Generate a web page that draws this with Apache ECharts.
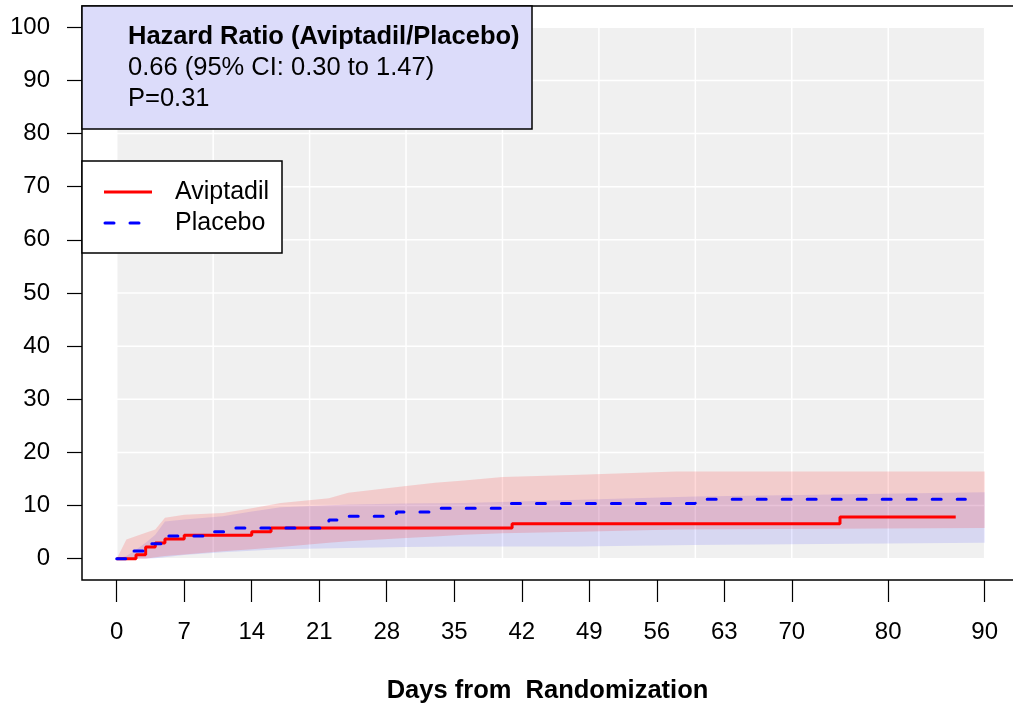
<!DOCTYPE html>
<html><head><meta charset="utf-8">
<script src="https://cdn.jsdelivr.net/npm/echarts@6/dist/echarts.min.js"></script>
<style>html,body{margin:0;padding:0;background:#fff}#c{width:1013px;height:704px}</style>
</head><body><div id="c"></div>
<script>
// ---- data ----
const xTickValues = [0, 7, 14, 21, 28, 35, 42, 49, 56, 63, 70, 80, 90];
const yTickValues = [0, 10, 20, 30, 40, 50, 60, 70, 80, 90, 100];
const xGridValues = [0, 10, 20, 30, 40, 50, 60, 70, 80, 90];
const yGridValues = [0, 10, 20, 30, 40, 50, 60, 70, 80, 90, 100];
const seriesNames = ['Aviptadil', 'Placebo'];
// cumulative incidence (%) step functions
const aviptadilDays = [0, 2, 3, 4, 5, 7, 14, 16, 41, 75, 87];
const aviptadilValues = [0, 0.75, 2.2, 2.95, 3.7, 4.4, 5.1, 5.8, 6.6, 7.85, 7.85];
const placeboDays = [0, 1, 3, 5, 10, 12, 22, 24, 29, 33, 40, 60, 88];
const placeboValues = [0, 1.45, 2.8, 4.3, 5.1, 5.8, 7.3, 8.0, 8.8, 9.5, 10.4, 11.2, 11.2];
// confidence bands
const pinkBandDays = [0, 1, 3, 4, 5, 7, 11, 14, 17, 22, 24, 30, 33, 36, 40, 48, 58, 90];
const pinkBandUpper = [0, 3.6, 4.9, 5.5, 7.7, 8.3, 8.6, 9.5, 10.5, 11.4, 12.4, 13.7, 14.3, 14.7, 15.4, 15.8, 16.4, 16.4];
const pinkBandLower = [0, 0, 0, 0.3, 0.5, 0.8, 1.4, 1.8, 2.2, 3.0, 3.3, 3.9, 4.2, 4.5, 4.8, 5.1, 5.5, 5.8];
const lavenderBandDays = [0, 1, 2, 3, 4, 5, 7, 11, 14, 17, 24, 30, 36, 48, 60, 90];
const lavenderBandUpper = [0, 0.5, 1.7, 3.0, 4.5, 7.0, 7.4, 8.0, 8.9, 9.7, 10.2, 10.4, 10.5, 11.1, 11.7, 12.5];
const lavenderBandLower = [0, 0, 0, 0, 0.1, 0.3, 0.7, 1.2, 1.5, 1.8, 2.0, 2.2, 2.3, 2.3, 2.6, 3.0];
const hrTitle = 'Hazard Ratio (Aviptadil/Placebo)';
const hrLines = ['0.66 (95% CI: 0.30 to 1.47)', 'P=0.31'];
const xTitle = 'Days from  Randomization';

const FONT = '"Liberation Sans", Arial, Helvetica, sans-serif';

function bandSeries(name, days, lower, upper, color, z) {
  return {
    type: 'custom', name: name, silent: true, z: z, clip: true,
    data: days.map((d, i) => [d, lower[i], upper[i]]),
    encode: { x: 0, y: [1, 2] },
    renderItem: function (params, api) {
      if (params.dataIndex !== 0) return null;
      const pts = [];
      for (let i = 0; i < days.length; i++) pts.push(api.coord([days[i], upper[i]]));
      for (let i = days.length - 1; i >= 0; i--) pts.push(api.coord([days[i], lower[i]]));
      return { type: 'polygon', shape: { points: pts }, style: { fill: color } };
    }
  };
}

const panelSeries = {
  type: 'custom', name: 'panel', silent: true, z: 1, clip: true,
  data: [[xGridValues[0], yGridValues[0]]],
  renderItem: function (params, api) {
    const x0 = xGridValues[0], x1 = xGridValues[xGridValues.length - 1];
    const y0 = yGridValues[0], y1 = yGridValues[yGridValues.length - 1];
    const tl = api.coord([x0, y1]), br = api.coord([x1, y0]);
    const children = [{ type: 'rect', shape: { x: tl[0], y: tl[1], width: br[0] - tl[0], height: br[1] - tl[1] }, style: { fill: '#F0F0F0' } }];
    xGridValues.forEach(v => {
      const a = api.coord([v, y0]), b = api.coord([v, y1]);
      children.push({ type: 'line', shape: { x1: a[0], y1: a[1], x2: b[0], y2: b[1] }, style: { stroke: '#FFFFFF', lineWidth: 1.5 } });
    });
    yGridValues.forEach(v => {
      const a = api.coord([x0, v]), b = api.coord([x1, v]);
      children.push({ type: 'line', shape: { x1: a[0], y1: a[1], x2: b[0], y2: b[1] }, style: { stroke: '#FFFFFF', lineWidth: 1.5 } });
    });
    return { type: 'group', children: children };
  }
};

const chart = echarts.init(document.getElementById('c'), null, { renderer: 'canvas' });
chart.setOption({
  animation: false,
  backgroundColor: '#ffffff',
  textStyle: { fontFamily: FONT },
  grid: { left: 82, right: 0, top: 6, bottom: 124, show: false, containLabel: false, outerBoundsMode: 'none' },
  xAxis: {
    type: 'value', min: -3.6, max: 92.94,
    axisLine: { show: false, onZero: false },
    axisTick: { show: true, customValues: xTickValues, length: 22, lineStyle: { color: '#000', width: 1.2 } },
    axisLabel: { show: true, customValues: xTickValues, margin: 40, fontSize: 24, color: '#000', fontFamily: FONT },
    splitLine: { show: false },
    name: xTitle, nameLocation: 'middle', nameGap: 98,
    nameTextStyle: { fontSize: 25.5, fontWeight: 'bold', color: '#000', fontFamily: FONT }
  },
  yAxis: {
    type: 'value', min: -4, max: 104,
    axisLine: { show: false, onZero: false },
    axisTick: { show: true, customValues: yTickValues, length: 15, lineStyle: { color: '#000', width: 1.2 } },
    axisLabel: { customValues: yTickValues, margin: 32, fontSize: 24, color: '#000', fontFamily: FONT },
    splitLine: { show: false }
  },
  series: [
    panelSeries,
    bandSeries('Placebo CI', lavenderBandDays, lavenderBandLower, lavenderBandUpper, 'rgba(0,0,255,0.10)', 2),
    bandSeries('Aviptadil CI', pinkBandDays, pinkBandLower, pinkBandUpper, 'rgba(255,0,0,0.15)', 3),
    { type: 'line', name: seriesNames[0], step: 'end', symbol: 'none', z: 5,
      data: aviptadilDays.map((d, i) => [d, aviptadilValues[i]]),
      lineStyle: { color: '#FF0000', width: 3 } },
    { type: 'line', name: seriesNames[1], step: 'end', symbol: 'none', z: 6,
      data: placeboDays.map((d, i) => [d, placeboValues[i]]),
      lineStyle: { color: '#0000FF', width: 3, type: [9, 16], cap: 'round' } }
  ],
  graphic: [
    { type: 'rect', z: 99, silent: true, shape: { x: 82, y: 6, width: 1000, height: 574 },
      style: { fill: null, stroke: '#000', lineWidth: 1.5 } },
    { type: 'rect', z: 100, silent: true, shape: { x: 82, y: 6, width: 450, height: 123 },
      style: { fill: '#DCDCFA', stroke: '#000', lineWidth: 1.5 } },
    { type: 'text', z: 101, silent: true, x: 128, y: 37, style: { text: hrTitle, font: 'bold 25.5px ' + FONT, fill: '#000', verticalAlign: 'middle' } },
    { type: 'text', z: 101, silent: true, x: 128, y: 68, style: { text: hrLines[0], font: '25.5px ' + FONT, fill: '#000', verticalAlign: 'middle' } },
    { type: 'text', z: 101, silent: true, x: 128, y: 99, style: { text: hrLines[1], font: '25.5px ' + FONT, fill: '#000', verticalAlign: 'middle' } },
    { type: 'rect', z: 100, silent: true, shape: { x: 82, y: 161, width: 200, height: 92 },
      style: { fill: '#FFFFFF', stroke: '#000', lineWidth: 1.5 } },
    { type: 'line', z: 101, silent: true, shape: { x1: 104, y1: 192, x2: 152, y2: 192 }, style: { stroke: '#FF0000', lineWidth: 3 } },
    { type: 'line', z: 101, silent: true, shape: { x1: 105, y1: 223, x2: 152, y2: 223 }, style: { stroke: '#0000FF', lineWidth: 3, lineDash: [9, 16], lineCap: 'round' } },
    { type: 'text', z: 101, silent: true, x: 175, y: 192, style: { text: seriesNames[0], font: '25px ' + FONT, fill: '#000', verticalAlign: 'middle' } },
    { type: 'text', z: 101, silent: true, x: 175, y: 223, style: { text: seriesNames[1], font: '25px ' + FONT, fill: '#000', verticalAlign: 'middle' } }
  ]
});
</script>
</body></html>
